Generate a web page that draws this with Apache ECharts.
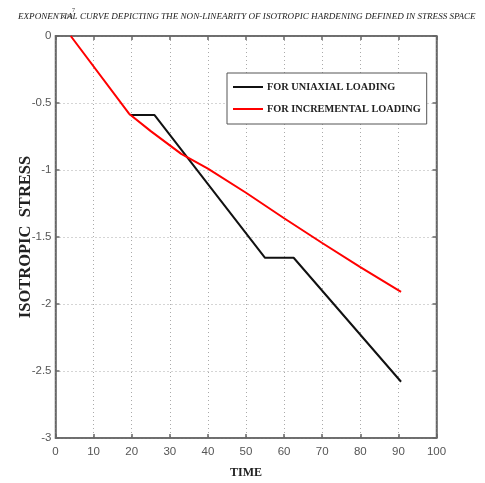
<!DOCTYPE html>
<html>
<head>
<meta charset="utf-8">
<script src="https://cdn.jsdelivr.net/npm/echarts@6/dist/echarts.min.js"></script>
<style>
  html, body { margin: 0; padding: 0; background: #fff; }
  #chart { width: 485px; height: 483px; }
</style>
</head>
<body>
<div id="chart"></div>
<script>
// Time axis ticks and isotropic stress axis ticks
const xTicks = [0, 10, 20, 30, 40, 50, 60, 70, 80, 90, 100];
const yTicks = [-3, -2.5, -2, -1.5, -1, -0.5, 0];

// Uniaxial loading path: [time, isotropic stress]
const uniaxialTime   = [19.5, 26, 55, 62.5, 90.7];
const uniaxialStress = [-0.59, -0.59, -1.655, -1.655, -2.58];

// Incremental loading path: [time, isotropic stress]
const incrementalTime   = [4, 19.3, 25, 33, 40, 50, 60, 70, 80, 90.7];
const incrementalStress = [0, -0.58, -0.71, -0.88, -0.99, -1.17, -1.36, -1.545, -1.725, -1.91];

const seriesNames = ['FOR UNIAXIAL LOADING', 'FOR INCREMENTAL LOADING'];

const pair = (xs, ys) => xs.map((x, i) => [x, ys[i]]);

const chart = echarts.init(document.getElementById('chart'), null, { renderer: 'canvas' });

const tickFont = { fontFamily: 'Liberation Sans Narrow, Liberation Sans, sans-serif', fontSize: 11.5, color: '#555' };
const axisLineStyle = { color: '#666', width: 1.5 };
const gridLine = { show: true, lineStyle: { color: '#aaa', type: [1, 3], width: 1 } };

const xMin = xTicks[0], xMax = xTicks[xTicks.length - 1], xStep = xTicks[1] - xTicks[0];
const yMin = yTicks[0], yMax = yTicks[yTicks.length - 1], yStep = yTicks[1] - yTicks[0];

chart.setOption({
  animation: false,
  backgroundColor: '#fff',
  title: {
    text: 'EXPONENTIAL CURVE DEPICTING THE NON-LINEARITY OF ISOTROPIC HARDENING DEFINED IN STRESS SPACE',
    left: 18, top: 12, padding: 0,
    textStyle: { fontFamily: 'Liberation Serif, serif', fontStyle: 'italic', fontWeight: 'normal', fontSize: 9.1, color: '#222' }
  },
  graphic: [
    { type: 'text', left: 62, top: 13, style: { text: 'x 10', font: '6px Liberation Serif', fill: '#333' } },
    { type: 'text', left: 72, top: 7, style: { text: '7', font: '6px Liberation Serif', fill: '#333' } }
  ],
  legend: {
    orient: 'vertical',
    left: 227, top: 73,
    data: seriesNames,
    icon: 'rect',
    itemWidth: 30, itemHeight: 2,
    itemGap: 12,
    padding: [9, 6, 10, 6],
    borderColor: '#555', borderWidth: 1,
    backgroundColor: '#fff',
    textStyle: { fontFamily: 'Liberation Serif, serif', fontWeight: 'bold', fontSize: 10.3, color: '#222', padding: [0, 0, 0, -1] }
  },
  grid: {
    left: 55.5, right: 48.5, top: 36, bottom: 45,
    outerBoundsMode: 'none', containLabel: false,
    show: true, borderColor: '#666', borderWidth: 1.5
  },
  xAxis: [{
    type: 'value', min: xMin, max: xMax, interval: xStep,
    name: 'TIME', nameLocation: 'middle', nameGap: 29, nameMoveOverlap: false,
    nameTextStyle: { fontFamily: 'Liberation Serif, serif', fontWeight: 'bold', fontSize: 12, color: '#222' },
    axisLine: { show: true, onZero: false, lineStyle: axisLineStyle },
    axisTick: { show: true, inside: true, length: 4, lineStyle: axisLineStyle },
    axisLabel: Object.assign({ margin: 8 }, tickFont),
    splitLine: gridLine
  }, {
    type: 'value', position: 'top', min: xMin, max: xMax, interval: xStep,
    axisLine: { show: true, onZero: false, lineStyle: axisLineStyle },
    axisTick: { show: true, inside: true, length: 4, lineStyle: axisLineStyle },
    axisLabel: { show: false }, splitLine: { show: false }
  }],
  yAxis: [{
    type: 'value', min: yMin, max: yMax, interval: yStep,
    name: 'ISOTROPIC  STRESS', nameLocation: 'middle', nameGap: 21, nameMoveOverlap: false,
    nameTextStyle: { fontFamily: 'Liberation Serif, serif', fontWeight: 'bold', fontSize: 16.5, color: '#222' },
    axisLine: { show: true, onZero: false, lineStyle: axisLineStyle },
    axisTick: { show: true, inside: true, length: 4, lineStyle: axisLineStyle },
    axisLabel: Object.assign({ margin: 4 }, tickFont),
    splitLine: gridLine
  }, {
    type: 'value', position: 'right', min: yMin, max: yMax, interval: yStep,
    axisLine: { show: true, onZero: false, lineStyle: axisLineStyle },
    axisTick: { show: true, inside: true, length: 4, lineStyle: axisLineStyle },
    axisLabel: { show: false }, splitLine: { show: false }
  }],
  series: [{
    name: seriesNames[0], type: 'line', symbol: 'none',
    data: pair(uniaxialTime, uniaxialStress),
    itemStyle: { color: '#111' },
    lineStyle: { color: '#111', width: 2 }, z: 2
  }, {
    name: seriesNames[1], type: 'line', symbol: 'none',
    data: pair(incrementalTime, incrementalStress),
    itemStyle: { color: '#ff0000' },
    lineStyle: { color: '#ff0000', width: 2 }, z: 3
  }]
});
</script>
</body>
</html>
